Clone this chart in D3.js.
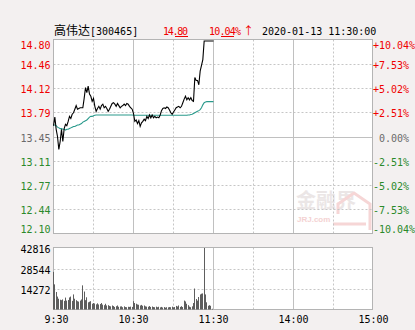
<!DOCTYPE html>
<html><head><meta charset="utf-8">
<script src="https://cdn.jsdelivr.net/npm/d3@7"></script>
<style>
html,body{margin:0;padding:0;background:#f3f0f0;}
svg{display:block;}
text{font-family:"DejaVu Sans Mono","Liberation Mono",monospace;font-size:10px;}
</style></head>
<body><svg id="c" width="415" height="330"></svg>
<script>
// ---- data ----
const stockName = "高伟达";
const stockCode = "[300465]";
const lastPrice = "14.80";
const lastPct = "10.04%";
const dateTime = "2020-01-13 11:30:00";
const prevClose = 13.45;

const priceTicks = [14.80, 14.46, 14.12, 13.79, 13.45, 13.11, 12.77, 12.44, 12.10];
const priceLabels = ["14.80","14.46","14.12","13.79","13.45","13.11","12.77","12.44","12.10"];
const pctLabels = ["+10.04%","+7.53%","+5.02%","+2.51%"," 0.00%","-2.51%","-5.02%","-7.53%","-10.04%"];
const volTicks = [42816, 28544, 14272];
const timeTicks = [0, 60, 120, 180, 240];
const timeLabels = [" 9:30", "10:30", "11:30", "14:00", "15:00"];

// one value per minute from 9:30 to 11:30
const price = [
13.60,13.72,13.55,13.45,13.27,13.38,13.55,13.38,13.56,13.62,
13.60,13.66,13.73,13.70,13.76,13.78,13.83,13.88,13.83,13.84,
13.85,13.85,13.85,13.98,14.13,14.06,14.15,14.04,14.01,13.94,
13.98,13.87,13.80,13.84,13.87,13.83,13.88,13.90,13.85,13.87,
13.84,13.80,13.83,13.87,13.91,13.92,13.90,13.87,13.91,13.88,
13.85,13.87,13.88,13.90,13.88,13.91,13.90,13.87,13.85,13.83,
13.77,13.66,13.68,13.63,13.67,13.59,13.64,13.66,13.69,13.67,
13.73,13.70,13.75,13.71,13.75,13.71,13.73,13.71,13.72,13.71,
13.75,13.81,13.84,13.85,13.84,13.86,13.85,13.82,13.78,13.76,
13.79,13.82,13.85,13.86,13.87,13.85,13.87,13.92,13.97,14.01,
13.96,13.99,13.96,13.99,13.95,13.94,14.27,14.23,14.23,14.17,
14.36,14.44,14.52,14.80,14.80,14.80,14.80,14.80,14.80,14.80,
14.80
];
const avgPrice = [
13.61,13.61,13.60,13.58,13.57,13.56,13.56,13.55,13.55,13.54,
13.55,13.55,13.56,13.57,13.58,13.59,13.59,13.60,13.61,13.61,
13.62,13.63,13.65,13.66,13.67,13.68,13.70,13.72,13.73,13.73,
13.74,13.745,13.75,13.75,13.75,13.75,13.75,13.75,13.75,13.75,
13.75,13.75,13.75,13.75,13.75,13.75,13.75,13.75,13.75,13.75,
13.75,13.75,13.75,13.75,13.75,13.75,13.75,13.75,13.75,13.75,
13.745,13.745,13.745,13.745,13.745,13.745,13.745,13.745,13.745,13.745,
13.745,13.745,13.745,13.745,13.745,13.745,13.745,13.745,13.745,13.745,
13.745,13.745,13.745,13.745,13.745,13.745,13.745,13.745,13.745,13.745,
13.745,13.745,13.745,13.745,13.745,13.745,13.745,13.745,13.745,13.745,
13.745,13.75,13.75,13.755,13.76,13.77,13.78,13.79,13.80,13.81,
13.825,13.85,13.89,13.92,13.93,13.935,13.935,13.935,13.935,13.935,
13.935
];
const volume = [
26200,17500,12200,9000,7500,6800,6500,7000,6000,8300,
6200,6600,8400,9000,6000,10500,7500,6500,5800,5500,
6200,7000,16800,12500,6500,8500,5000,5400,5800,4000,
4500,4200,3600,4300,3500,3800,4500,3400,3000,4000,
2800,3000,2500,2200,2800,2400,1800,2300,2800,1900,
2100,2200,1600,2200,1700,1600,1900,1800,2000,1800,
5800,4500,4000,3500,3300,2800,3200,2600,2800,2200,
2000,1900,2400,1800,2100,1700,1600,2000,1600,1900,
1500,1800,1400,1700,1300,1600,1500,1700,1600,2000,
1500,1700,2500,2100,2800,1800,2300,1700,6200,5600,
4000,3000,2000,1600,2200,4500,14600,7300,6200,8700,
10500,11000,11200,42816,10500,5000,2600,3000,2600,500,
0
];

// ---- drawing ----
const svg = d3.select("#c");
const L = 53.5, R = 372.5;
const x = d3.scaleLinear().domain([0, 240]).range([53.5, 373.5]);
const y = d3.scaleLinear().domain([12.10, 14.80]).range([233.5, 39.5]);
const yv = d3.scaleLinear().domain([0, 42816]).range([309.5, 248]);

const RED = "#f00000", GREEN = "#2a8a2a", GRAY = "#6a6a6a";
const gridC = "#c6c6c6", solidC = "#c0c0c0", borderC = "#b4b4b4";

// panels
svg.append("rect").attr("x", L).attr("y", 39.5).attr("width", R - L).attr("height", 194).attr("fill", "#fff");
svg.append("rect").attr("x", L).attr("y", 247.5).attr("width", R - L).attr("height", 62).attr("fill", "#fff");

// watermark
const wm = svg.append("g");
wm.append("text").attr("x", 296).attr("y", 208).text("金融界")
  .style("font-family", "'Noto Sans CJK SC'").style("font-size", "20px").style("font-weight", "bold")
  .attr("fill", "#ebe6e6");
wm.append("text").attr("x", 297).attr("y", 222).text("JRJ.com")
  .style("font-family", "'Liberation Sans'").style("font-size", "8px").style("font-weight", "bold")
  .attr("fill", "#f4d2d2");
wm.append("path").attr("d", "M338,214 L338,204 L354,193 L370,204 L370,230 M333,224 L366,224")
  .attr("fill", "none").attr("stroke", "#f6d6d6").attr("stroke-width", 3);

// price grid horizontal
priceTicks.forEach(v => {
  if (v === 14.80 || v === 12.10) return;
  const yy = Math.round(y(v)) + 0.5;
  svg.append("line").attr("x1", L).attr("x2", R).attr("y1", yy).attr("y2", yy)
    .attr("stroke", v === prevClose ? solidC : gridC)
    .attr("stroke-dasharray", v === prevClose ? null : "2,2");
});
// volume grid horizontal
volTicks.slice(1).forEach(v => {
  const yy = Math.round(yv(v)) + 0.5;
  svg.append("line").attr("x1", L).attr("x2", R).attr("y1", yy).attr("y2", yy)
    .attr("stroke", gridC).attr("stroke-dasharray", "2,2");
});
// vertical grid
d3.range(30, 240, 30).forEach(m => {
  const xx = Math.round(x(m)) - 0.5;
  const solid = m % 60 === 0;
  [[39.5, 233.5], [247.5, 309.5]].forEach(([a, b]) => {
    svg.append("line").attr("x1", xx).attr("x2", xx).attr("y1", a).attr("y2", b)
      .attr("stroke", solid ? solidC : gridC).attr("stroke-dasharray", solid ? null : "2,2");
  });
});
// borders
svg.append("rect").attr("x", L).attr("y", 39.5).attr("width", R - L).attr("height", 194)
  .attr("fill", "none").attr("stroke", borderC);
svg.append("rect").attr("x", L).attr("y", 247.5).attr("width", R - L).attr("height", 62)
  .attr("fill", "none").attr("stroke", borderC);

// volume bars
svg.append("g").selectAll("rect").data(volume).join("rect")
  .attr("x", (d, i) => Math.floor(x(i)))
  .attr("width", 1)
  .attr("y", d => yv(d))
  .attr("height", d => yv(0) - yv(d))
  .attr("fill", "#5e5e5e");

// average line
svg.append("path").datum(avgPrice)
  .attr("d", d3.line().x((d, i) => x(i)).y(d => y(d)))
  .attr("fill", "none").attr("stroke", "#2a9a8c").attr("stroke-width", 1.1);
// price line
svg.append("path").datum(price)
  .attr("d", d3.line().x((d, i) => x(i)).y(d => Math.max(y(d), 41)))
  .attr("fill", "none").attr("stroke", "#000").attr("stroke-width", 1.1);

// left price labels
priceTicks.forEach((v, i) => {
  let yy = y(v) + 1.5;
  if (i === 0) yy = 45; if (i === priceTicks.length - 1) yy = 229.5;
  svg.append("text").attr("x", 50.5).attr("y", yy).attr("dy", "0.35em")
    .attr("text-anchor", "end").text(priceLabels[i])
    .attr("fill", v > prevClose ? RED : v < prevClose ? GREEN : GRAY);
  svg.append("text").attr("x", 373).attr("y", yy).attr("dy", "0.35em")
    .style("white-space", "pre").text(pctLabels[i])
    .attr("fill", v > prevClose ? RED : v < prevClose ? GREEN : GRAY);
});
// volume labels
volTicks.forEach(v => {
  svg.append("text").attr("x", 50.5).attr("y", yv(v) + 1.5).attr("dy", "0.35em")
    .attr("text-anchor", "end").attr("fill", "#000").text(v);
});
// time labels
timeTicks.forEach((m, i) => {
  svg.append("text").attr("x", x(m)).attr("y", 322.5).attr("text-anchor", "middle")
    .style("white-space", "pre").attr("fill", "#000").text(timeLabels[i]);
});

// title row
const t = svg.append("text").attr("x", 54).attr("y", 34.5).attr("fill", "#000");
t.append("tspan").style("font-family", "'Noto Sans CJK SC'").style("font-size", "12px").text(stockName);
t.append("tspan").text(stockCode);
svg.append("text").attr("x", 163).attr("y", 34.5).attr("fill", RED)
  .attr("textLength", 25).attr("lengthAdjust", "spacing").text(lastPrice);
svg.append("line").attr("x1", 175).attr("x2", 188).attr("y1", 36.5).attr("y2", 36.5)
  .attr("stroke", RED).attr("stroke-width", 1);
svg.append("text").attr("x", 209).attr("y", 34.5).attr("fill", RED)
  .attr("textLength", 32).attr("lengthAdjust", "spacing").text(lastPct);
svg.append("line").attr("x1", 221).attr("x2", 234).attr("y1", 36.5).attr("y2", 36.5)
  .attr("stroke", RED).attr("stroke-width", 1);
svg.append("text").attr("x", 243).attr("y", 34.5).attr("fill", RED)
  .style("font-family", "'Noto Sans CJK SC'").style("font-size", "11px").text("↑");
svg.append("text").attr("x", 262).attr("y", 34.5).attr("fill", "#000").text(dateTime);
</script></body></html>
